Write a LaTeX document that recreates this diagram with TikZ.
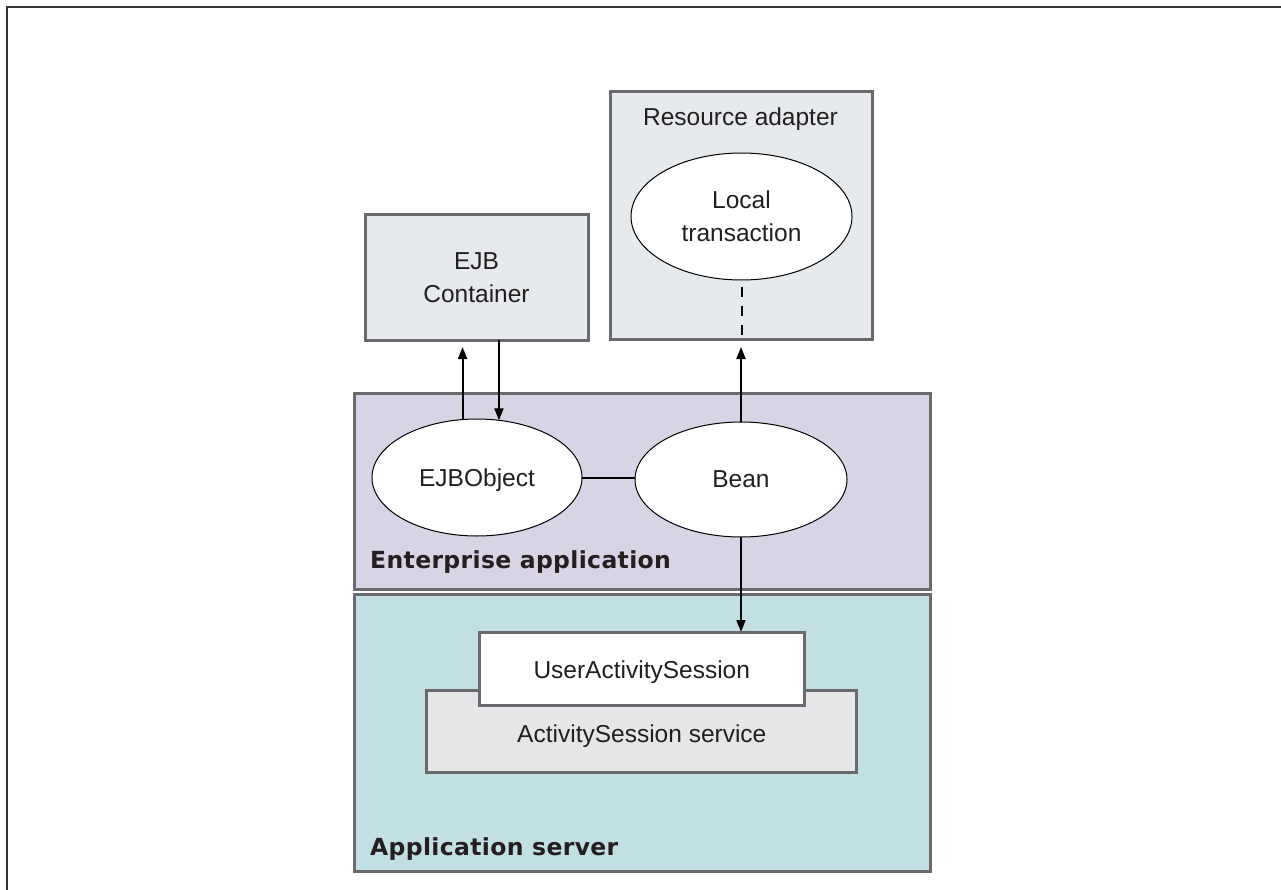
\documentclass[tikz,border=0pt]{standalone}
\usepackage{fontspec}
\setmainfont{Liberation Sans}
\newfontfamily\heavyfont{DejaVu Sans}[LetterSpace=1.5]
\usetikzlibrary{arrows.meta,shapes.geometric}
\definecolor{bordergray}{RGB}{105,105,110}
\definecolor{boxgray}{RGB}{230,234,236}
\definecolor{servgray}{RGB}{229,230,232}
\definecolor{lavender}{RGB}{216,212,230}
\definecolor{teal}{RGB}{194,223,228}
\definecolor{ink}{RGB}{35,31,32}
\definecolor{framegray}{RGB}{50,50,50}
\begin{document}
\begin{tikzpicture}[x=1pt,y=-1pt,
  txt/.style={font=\fontsize{24.5}{33}\selectfont, text=ink, align=center, text depth=0pt},
  heavy/.style={font=\heavyfont\bfseries\fontsize{23.5}{26}\selectfont, text=ink, inner sep=0pt, anchor=base west},
  box/.style={draw=bordergray, line width=3pt, inner sep=0pt, outer sep=0pt, rectangle},
  oval/.style={draw=black, line width=1pt, fill=white, ellipse, inner sep=0pt, outer sep=0pt, txt},
  arr/.style={draw=black, line width=2pt, -{Triangle[length=12pt,width=9pt]}},
  link/.style={draw=black, line width=2pt},
  dashline/.style={draw=black, line width=2pt, dash pattern=on 10pt off 9pt}
]
\fill[white] (0,0) rectangle (1281,890);
\useasboundingbox (0,0) rectangle (1281,890);
% frame
\coordinate (fbl) at (7,890);
\coordinate (ftl) at (7,7);
\coordinate (ftr) at (1281,7);
\draw[framegray, line width=2pt] (fbl) -- (ftl) -- (ftr);

% containers
\node[box, fill=lavender, minimum width=576pt, minimum height=196pt] (ent) at (642,491.5) {};
\node[box, fill=teal, minimum width=576pt, minimum height=277pt] (app) at (642,732.5) {};
\node[heavy] (entlabel) at (370,568) {Enterprise application};
\node[heavy] (applabel) at (370,855) {Application server};

% top boxes
\node[box, fill=boxgray, minimum width=223pt, minimum height=125pt, txt] (ejb) at (476.5,277.5) {EJB\\Container};
\node[box, fill=boxgray, minimum width=262pt, minimum height=247pt] (ra) at (741,215.5) {};
\node[txt, anchor=base, inner sep=0pt] (ratitle) at (740.5,126) {Resource adapter};
\node[oval, minimum width=221pt, minimum height=127pt] (lt) at (741.5,216.5) {Local\\transaction};

% ellipses
\node[oval, minimum width=210pt, minimum height=117pt] (ejbo) at (477,477.5) {EJBObject};
\node[oval, minimum width=212pt, minimum height=115pt] (bean) at (741,479.5) {Bean};

% service boxes
\node[box, fill=servgray, minimum width=430pt, minimum height=82pt, txt] (ass) at (641.8,731) {\raisebox{-6pt}{ActivitySession service}};
\node[box, fill=white, minimum width=324.5pt, minimum height=73.5pt, txt] (uas) at (641.75,668.75) {\raisebox{-2pt}{UserActivitySession}};

% connectors
\draw[arr, shorten >=7pt] (ejbo.104.5) -- (ejbo.104.5 |- ejb.south);
\draw[arr] (ejbo.69 |- ejb.south) -- (ejbo.69);
\draw[link] (ejbo.east) -- (ejbo.east -| bean.west);
\draw[arr, shorten >=8pt] (bean.north) -- (bean.north |- ra.south);
\draw[dashline, shorten <=7pt] (lt.south) -- (lt.south |- ra.south);
\draw[arr] (bean.south) -- (bean.south |- uas.north);
\end{tikzpicture}
\end{document}
